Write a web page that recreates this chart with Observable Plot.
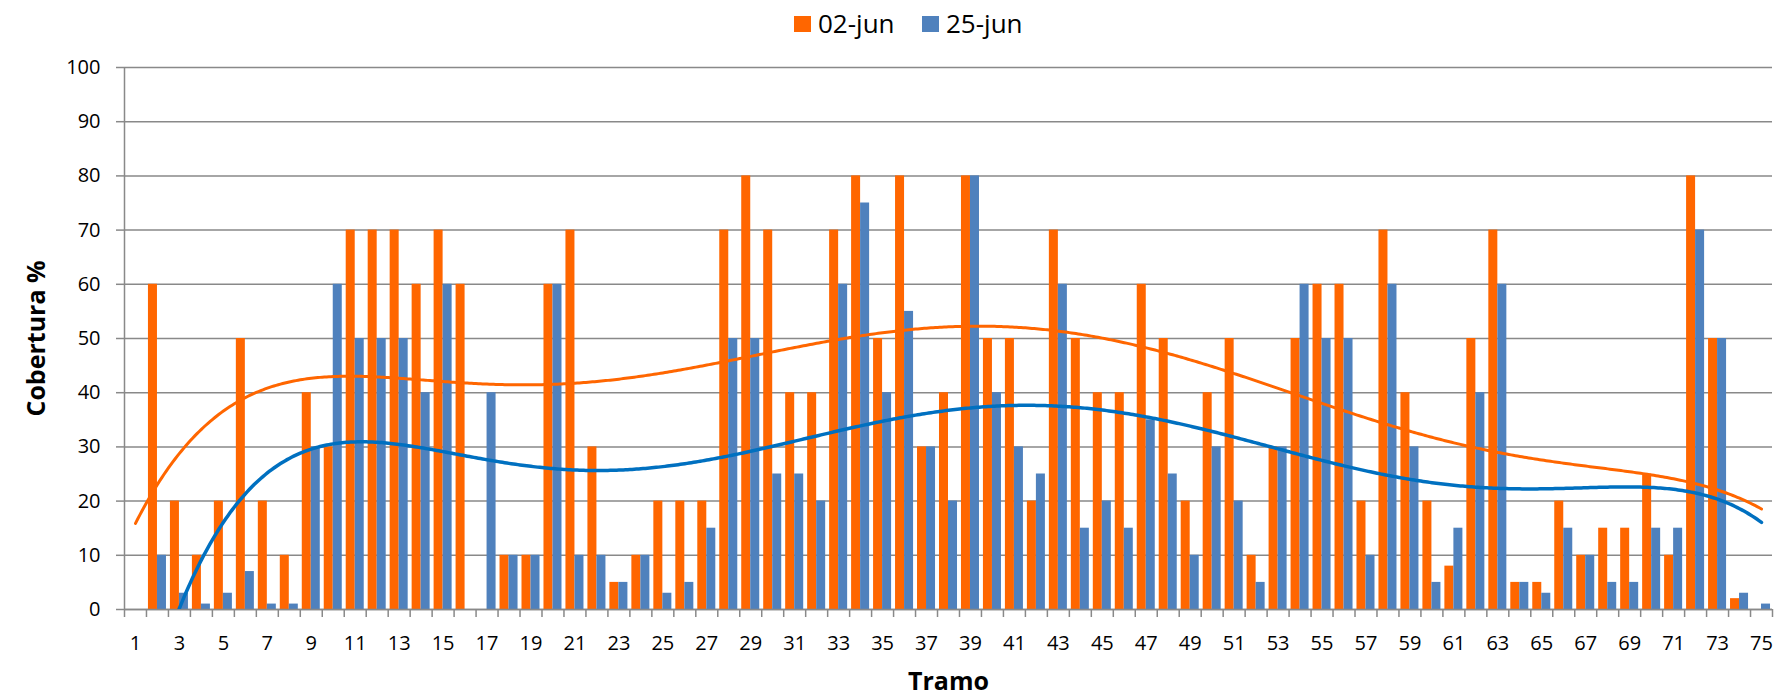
<!DOCTYPE html>
<html>
<head>
<meta charset="utf-8">
<script src="https://cdn.jsdelivr.net/npm/d3@7"></script>
<script src="https://cdn.jsdelivr.net/npm/@observablehq/plot@0.6"></script>
<style>
  html, body { margin: 0; padding: 0; background: #fff; }
  body { font-family: "Open Sans", sans-serif; width: 1778px; height: 697px; overflow: hidden; }
  #legend { position: relative; height: 48px; width: 1778px; }
  .sw { position: absolute; top: 16px; width: 17px; height: 16px; }
  .lt { position: absolute; top: 5px; font-size: 26px; line-height: 36px; color: #000; }
  #chart svg { display: block; overflow: visible; }
</style>
</head>
<body>
<div id="legend">
  <div class="sw" style="left:794px;background:#FF6600"></div>
  <div class="lt" id="l1" style="left:818px"></div>
  <div class="sw" style="left:922px;background:#4F81BD"></div>
  <div class="lt" id="l2" style="left:946px"></div>
</div>
<div id="chart"></div>
<script>
// ---- data (null = empty cell) ----
const seriesNames = ["02-jun", "25-jun"];
const tramo = [1,2,3,4,5,6,7,8,9,10,11,12,13,14,15,16,17,18,19,20,21,22,23,24,25,26,27,28,29,30,31,32,33,34,35,36,37,38,39,40,41,42,43,44,45,46,47,48,49,50,51,52,53,54,55,56,57,58,59,60,61,62,63,64,65,66,67,68,69,70,71,72,73,74,75];
const jun02 = [null,60,20,10,20,50,20,10,40,30,70,70,70,60,70,60,null,10,10,60,70,30,5,10,20,20,20,70,80,70,40,40,70,80,50,80,30,40,80,50,50,20,70,50,40,40,60,50,20,40,50,10,30,50,60,60,20,70,40,20,8,50,70,5,5,20,10,15,15,25,10,80,50,2,0];
const jun25 = [null,10,3,1,3,7,1,1,30,60,50,50,50,40,60,0,40,10,10,60,10,10,5,10,3,5,15,50,50,25,25,20,60,75,40,55,30,20,80,40,30,25,60,15,20,15,35,25,10,30,20,5,30,60,50,50,10,60,30,5,15,40,60,5,3,15,10,5,5,15,15,70,50,3,1];
const xLabels = [1,3,5,7,9,11,13,15,17,19,21,23,25,27,29,31,33,35,37,39,41,43,45,47,49,51,53,55,57,59,61,63,65,67,69,71,73,75];
const yTicks = [0,10,20,30,40,50,60,70,80,90,100];
const colors = { bar1: "#FF6600", bar2: "#4F81BD", trend1: "#FF6600", trend2: "#0070C0" };

document.getElementById("l1").textContent = seriesNames[0];
document.getElementById("l2").textContent = seriesNames[1];

// ---- polynomial (order 6) trendline, like the spreadsheet's; empty cells skipped ----
function polyfit(xsIn, ysIn, order) {
  const xs = [], ys = [];
  xsIn.forEach((x, i) => { if (ysIn[i] != null) { xs.push(x); ys.push(ysIn[i]); } });
  const n = order + 1, c = 38, s = 37;
  const A = Array.from({length: n}, () => new Array(n).fill(0));
  const b = new Array(n).fill(0);
  xs.forEach((x, i) => {
    const t = (x - c) / s;
    const p = []; let v = 1;
    for (let k = 0; k < n; k++) { p.push(v); v *= t; }
    for (let j = 0; j < n; j++) {
      b[j] += p[j] * ys[i];
      for (let k = 0; k < n; k++) A[j][k] += p[j] * p[k];
    }
  });
  for (let i = 0; i < n; i++) {
    let m = i;
    for (let r = i + 1; r < n; r++) if (Math.abs(A[r][i]) > Math.abs(A[m][i])) m = r;
    [A[i], A[m]] = [A[m], A[i]]; [b[i], b[m]] = [b[m], b[i]];
    for (let r = i + 1; r < n; r++) {
      const f = A[r][i] / A[i][i];
      for (let k = i; k < n; k++) A[r][k] -= f * A[i][k];
      b[r] -= f * b[i];
    }
  }
  const coef = new Array(n).fill(0);
  for (let i = n - 1; i >= 0; i--) {
    let sum = b[i];
    for (let k = i + 1; k < n; k++) sum -= A[i][k] * coef[k];
    coef[i] = sum / A[i][i];
  }
  return x => { const t = (x - c) / s; let v = 0, p = 1; for (const a of coef) { v += a * p; p *= t; } return v; };
}
const f1 = polyfit(tramo, jun02, 6);
const f2 = polyfit(tramo, jun25, 6);
const xs = d3.range(tramo[0], tramo[tramo.length - 1] + 0.001, 0.1);
const trend1 = xs.map(x => ({x, y: f1(x)}));
const trend2 = xs.map(x => ({x, y: f2(x)}));

const rows = tramo.map((t, i) => ({t, a: jun02[i], b: jun25[i]}));
const boundaries = [0.5, ...tramo.map(t => t + 0.5)];
const half = 0.41;
const grey = "#898989";

const plot = Plot.plot({
  width: 1778,
  height: 649,
  marginTop: 19,
  marginBottom: 88,
  marginLeft: 124,
  marginRight: 6,
  style: { fontFamily: "Open Sans, sans-serif", fontSize: "20px", color: "#000", background: "#fff" },
  x: { type: "linear", domain: [0.5, 75.5] },
  y: { domain: [0, 100] },
  marks: [
    Plot.gridY(yTicks, { stroke: grey, strokeOpacity: 1, strokeWidth: 1.5 }),
    Plot.rectY(rows, { x1: d => d.t - half, x2: d => d.t, y: "a", fill: colors.bar1 }),
    Plot.rectY(rows, { x1: d => d.t, x2: d => d.t + half, y: "b", fill: colors.bar2 }),
    Plot.ruleY([0], { stroke: grey, strokeWidth: 1.5 }),
    Plot.ruleX([0.5], { stroke: grey, strokeWidth: 1.5 }),
    Plot.line(trend1, { x: "x", y: "y", stroke: colors.trend1, strokeWidth: 3, clip: true }),
    Plot.line(trend2, { x: "x", y: "y", stroke: colors.trend2, strokeWidth: 3.5, clip: true }),
    Plot.axisY({ ticks: yTicks, tickSize: 8, tickPadding: 16, stroke: grey, strokeWidth: 1.5, label: null, fontSize: 20 }),
    Plot.axisX({ ticks: boundaries, tickSize: 8, tickFormat: () => "", stroke: grey, strokeWidth: 1.5, label: null }),
    Plot.axisX({ ticks: xLabels, tickSize: 0, tickPadding: 26, tickFormat: d => String(d), label: null, fontSize: 20 }),
    Plot.text(["Cobertura %"], { frameAnchor: "left", dx: -88, rotate: -90, textAnchor: "middle", lineAnchor: "middle", fontWeight: "bold", fontSize: 25, fill: "#000" }),
    Plot.text(["Tramo"], { frameAnchor: "bottom", dy: 72, textAnchor: "middle", lineAnchor: "middle", fontWeight: "bold", fontSize: 25, fill: "#000" })
  ]
});
document.getElementById("chart").appendChild(plot);
</script>
</body>
</html>
